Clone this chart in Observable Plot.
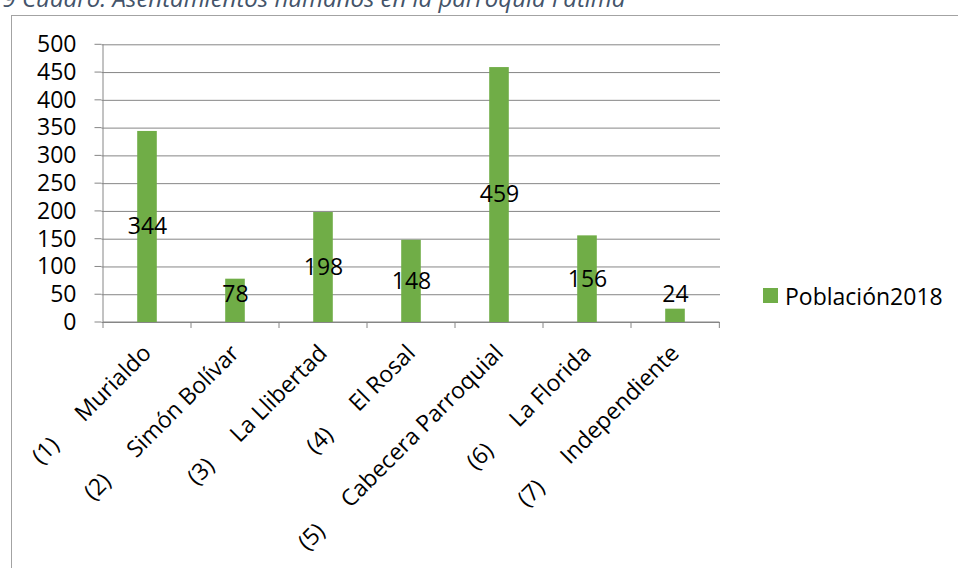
<!DOCTYPE html>
<html>
<head>
<meta charset="utf-8">
<script src="https://cdn.jsdelivr.net/npm/d3@7"></script>
<script src="https://cdn.jsdelivr.net/npm/@observablehq/plot@0.6"></script>
<style>
  html, body { margin: 0; padding: 0; background: #fff; }
  body { width: 958px; height: 568px; overflow: hidden; position: relative; font-family: "Open Sans", sans-serif; }
  #title { position: absolute; left: 0; top: 0; width: 958px; height: 15px; overflow: hidden; }
  #title span { position: absolute; left: -10.7px; top: -13.8px; font-style: italic; font-size: 24px; line-height: 24px; color: #44546A; white-space: nowrap; }
  #chart { position: absolute; left: 11px; top: 15px; width: 947px; height: 553px; border-top: 1px solid #a3a3a3; border-left: 1px solid #a3a3a3; }
  #chart svg { display: block; }
  #legend { position: absolute; left: 763px; top: 284.6px; font-size: 23px; line-height: 23px; color: #000; white-space: nowrap; }
  #legend .sw { position: absolute; left: 0; top: 3.5px; width: 15px; height: 15px; background: #70AD47; }
  #legend .lb { position: absolute; left: 22px; top: 0; }
</style>
</head>
<body>
<div id="title"><span>19 Cuadro. Asentamientos humanos en la parroquia Fátima</span></div>
<div id="chart"></div>
<div id="legend"><div class="sw"></div><div class="lb" id="legendLabel"></div></div>
<script>
const categories = [
  "(1)\tMurialdo",
  "(2)\tSimón Bolívar",
  "(3)\tLa Llibertad",
  "(4)\tEl Rosal",
  "(5)\tCabecera Parroquial",
  "(6)\tLa Florida",
  "(7)\tIndependiente"
];
const poblacion2018 = [344, 78, 198, 148, 459, 156, 24];
const yTicks = [0, 50, 100, 150, 200, 250, 300, 350, 400, 450, 500];
const seriesName = "Población2018";

const GREEN = "#70AD47";
const GRAY = "#868686";

document.getElementById("legendLabel").textContent = seriesName;

const data = categories.map((c, i) => ({cat: c, value: poblacion2018[i]}));
const displayLabel = c => c.replace("\t", "\u00a0\u00a0\u00a0\u00a0\u00a0\u2009");

function axesMark(index, scales, values, dimensions) {
  const {x, y} = scales;
  const {width, marginLeft, marginRight} = dimensions;
  const step = (width - marginLeft - marginRight) / categories.length;
  const g = d3.create("svg:g").attr("stroke", GRAY).attr("stroke-width", 1).attr("fill", "none");
  const y0 = y(0);
  const xStart = x(categories[0]);
  const xEnd = x(categories[categories.length - 1]) + step;
  for (const t of yTicks) {
    g.append("line").attr("x1", marginLeft - 7).attr("x2", marginLeft).attr("y1", y(t)).attr("y2", y(t));
  }
  g.append("line").attr("x1", xStart).attr("x2", xStart).attr("y1", y(yTicks[yTicks.length - 1])).attr("y2", y0);
  g.append("line").attr("x1", xStart).attr("x2", xEnd).attr("y1", y0).attr("y2", y0);
  const bounds = categories.map(c => x(c)).concat([xEnd]);
  for (const b of bounds) {
    g.append("line").attr("x1", b).attr("x2", b).attr("y1", y0).attr("y2", y0 + 6);
  }
  return g.node();
}

const chart = Plot.plot({
  width: 946,
  height: 552,
  marginLeft: 89.5,
  marginRight: 238,
  marginTop: 28.3,
  marginBottom: 246,
  x: {domain: categories, padding: 0, axis: null},
  y: {domain: [0, 500], axis: null},
  style: {fontFamily: "Open Sans", fontSize: "23px", color: "#000", background: "#fff", overflow: "visible"},
  marks: [
    Plot.ruleY(yTicks, {y: d => d, stroke: GRAY, strokeWidth: 1}),
    axesMark,
    Plot.barY(data, {x: "cat", y: "value", fill: GREEN, insetLeft: 34.2, insetRight: 34.2}),
    Plot.text(data, {x: "cat", y: d => Math.max(d.value / 2, 50), text: d => String(d.value), fill: "#000", fontSize: 23}),
    Plot.text(yTicks, {y: d => d, text: d => String(d), frameAnchor: "left", textAnchor: "end", dx: -25.5, fill: "#000", fontSize: 23}),
    Plot.text(data, {x: "cat", text: d => displayLabel(d.cat), frameAnchor: "bottom", rotate: -45, textAnchor: "end", dx: 5, dy: 32, fill: "#000", fontSize: 23})
  ]
});
document.getElementById("chart").appendChild(chart);
</script>
</body>
</html>
